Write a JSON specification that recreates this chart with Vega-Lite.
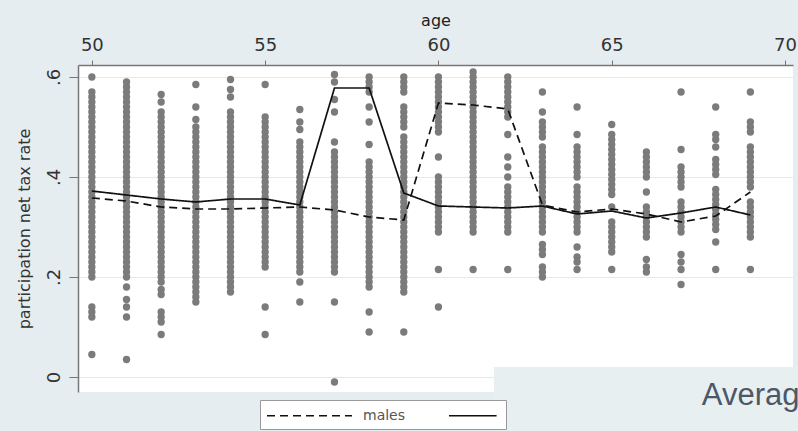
{
"$schema": "https://vega.github.io/schema/vega-lite/v6.json",
"width": 715,
"height": 327,
"autosize": {"type": "none"},
"padding": {"left": 78, "top": 65, "right": 5, "bottom": 39},
"background": "#e5edf0",
"config": {"view": {"fill": "white", "stroke": null}, "font": "DejaVu Sans"},
"datasets": {
"pts": [
{"age":50,"rate":0.6},{"age":50,"rate":0.57},{"age":50,"rate":0.56},{"age":50,"rate":0.55},{"age":50,"rate":0.54},{"age":50,"rate":0.53},{"age":50,"rate":0.52},{"age":50,"rate":0.51},{"age":50,"rate":0.5},{"age":50,"rate":0.49},{"age":50,"rate":0.48},{"age":50,"rate":0.47},{"age":50,"rate":0.46},{"age":50,"rate":0.45},{"age":50,"rate":0.44},{"age":50,"rate":0.43},{"age":50,"rate":0.42},{"age":50,"rate":0.41},{"age":50,"rate":0.4},{"age":50,"rate":0.39},{"age":50,"rate":0.38},{"age":50,"rate":0.37},{"age":50,"rate":0.36},{"age":50,"rate":0.35},{"age":50,"rate":0.34},{"age":50,"rate":0.33},{"age":50,"rate":0.32},{"age":50,"rate":0.31},{"age":50,"rate":0.3},{"age":50,"rate":0.29},{"age":50,"rate":0.28},{"age":50,"rate":0.27},{"age":50,"rate":0.26},{"age":50,"rate":0.25},{"age":50,"rate":0.24},{"age":50,"rate":0.23},{"age":50,"rate":0.22},{"age":50,"rate":0.21},{"age":50,"rate":0.2},{"age":50,"rate":0.14},{"age":50,"rate":0.13},{"age":50,"rate":0.12},{"age":50,"rate":0.045},
{"age":51,"rate":0.59},{"age":51,"rate":0.58},{"age":51,"rate":0.57},{"age":51,"rate":0.56},{"age":51,"rate":0.55},{"age":51,"rate":0.54},{"age":51,"rate":0.53},{"age":51,"rate":0.52},{"age":51,"rate":0.51},{"age":51,"rate":0.5},{"age":51,"rate":0.49},{"age":51,"rate":0.48},{"age":51,"rate":0.47},{"age":51,"rate":0.46},{"age":51,"rate":0.45},{"age":51,"rate":0.44},{"age":51,"rate":0.43},{"age":51,"rate":0.42},{"age":51,"rate":0.41},{"age":51,"rate":0.4},{"age":51,"rate":0.39},{"age":51,"rate":0.38},{"age":51,"rate":0.37},{"age":51,"rate":0.36},{"age":51,"rate":0.35},{"age":51,"rate":0.34},{"age":51,"rate":0.33},{"age":51,"rate":0.32},{"age":51,"rate":0.31},{"age":51,"rate":0.3},{"age":51,"rate":0.29},{"age":51,"rate":0.28},{"age":51,"rate":0.27},{"age":51,"rate":0.26},{"age":51,"rate":0.25},{"age":51,"rate":0.24},{"age":51,"rate":0.23},{"age":51,"rate":0.22},{"age":51,"rate":0.21},{"age":51,"rate":0.2},{"age":51,"rate":0.18},{"age":51,"rate":0.155},{"age":51,"rate":0.14},{"age":51,"rate":0.12},{"age":51,"rate":0.035},
{"age":52,"rate":0.565},{"age":52,"rate":0.55},{"age":52,"rate":0.53},{"age":52,"rate":0.52},{"age":52,"rate":0.51},{"age":52,"rate":0.5},{"age":52,"rate":0.49},{"age":52,"rate":0.48},{"age":52,"rate":0.47},{"age":52,"rate":0.46},{"age":52,"rate":0.45},{"age":52,"rate":0.44},{"age":52,"rate":0.43},{"age":52,"rate":0.42},{"age":52,"rate":0.41},{"age":52,"rate":0.4},{"age":52,"rate":0.39},{"age":52,"rate":0.38},{"age":52,"rate":0.37},{"age":52,"rate":0.36},{"age":52,"rate":0.35},{"age":52,"rate":0.34},{"age":52,"rate":0.33},{"age":52,"rate":0.32},{"age":52,"rate":0.31},{"age":52,"rate":0.3},{"age":52,"rate":0.29},{"age":52,"rate":0.28},{"age":52,"rate":0.27},{"age":52,"rate":0.26},{"age":52,"rate":0.25},{"age":52,"rate":0.24},{"age":52,"rate":0.23},{"age":52,"rate":0.22},{"age":52,"rate":0.21},{"age":52,"rate":0.2},{"age":52,"rate":0.19},{"age":52,"rate":0.175},{"age":52,"rate":0.165},{"age":52,"rate":0.13},{"age":52,"rate":0.12},{"age":52,"rate":0.11},{"age":52,"rate":0.085},
{"age":53,"rate":0.585},{"age":53,"rate":0.54},{"age":53,"rate":0.515},{"age":53,"rate":0.5},{"age":53,"rate":0.49},{"age":53,"rate":0.48},{"age":53,"rate":0.47},{"age":53,"rate":0.46},{"age":53,"rate":0.45},{"age":53,"rate":0.44},{"age":53,"rate":0.43},{"age":53,"rate":0.42},{"age":53,"rate":0.41},{"age":53,"rate":0.4},{"age":53,"rate":0.39},{"age":53,"rate":0.38},{"age":53,"rate":0.37},{"age":53,"rate":0.36},{"age":53,"rate":0.35},{"age":53,"rate":0.34},{"age":53,"rate":0.33},{"age":53,"rate":0.32},{"age":53,"rate":0.31},{"age":53,"rate":0.3},{"age":53,"rate":0.29},{"age":53,"rate":0.28},{"age":53,"rate":0.27},{"age":53,"rate":0.26},{"age":53,"rate":0.25},{"age":53,"rate":0.24},{"age":53,"rate":0.23},{"age":53,"rate":0.22},{"age":53,"rate":0.21},{"age":53,"rate":0.2},{"age":53,"rate":0.19},{"age":53,"rate":0.18},{"age":53,"rate":0.17},{"age":53,"rate":0.16},{"age":53,"rate":0.15},
{"age":54,"rate":0.595},{"age":54,"rate":0.575},{"age":54,"rate":0.56},{"age":54,"rate":0.53},{"age":54,"rate":0.52},{"age":54,"rate":0.51},{"age":54,"rate":0.5},{"age":54,"rate":0.49},{"age":54,"rate":0.48},{"age":54,"rate":0.47},{"age":54,"rate":0.46},{"age":54,"rate":0.45},{"age":54,"rate":0.44},{"age":54,"rate":0.43},{"age":54,"rate":0.42},{"age":54,"rate":0.41},{"age":54,"rate":0.4},{"age":54,"rate":0.39},{"age":54,"rate":0.38},{"age":54,"rate":0.37},{"age":54,"rate":0.36},{"age":54,"rate":0.35},{"age":54,"rate":0.34},{"age":54,"rate":0.33},{"age":54,"rate":0.32},{"age":54,"rate":0.31},{"age":54,"rate":0.3},{"age":54,"rate":0.29},{"age":54,"rate":0.28},{"age":54,"rate":0.27},{"age":54,"rate":0.26},{"age":54,"rate":0.25},{"age":54,"rate":0.24},{"age":54,"rate":0.23},{"age":54,"rate":0.22},{"age":54,"rate":0.21},{"age":54,"rate":0.2},{"age":54,"rate":0.19},{"age":54,"rate":0.18},{"age":54,"rate":0.17},
{"age":55,"rate":0.585},{"age":55,"rate":0.52},{"age":55,"rate":0.51},{"age":55,"rate":0.5},{"age":55,"rate":0.49},{"age":55,"rate":0.48},{"age":55,"rate":0.47},{"age":55,"rate":0.46},{"age":55,"rate":0.45},{"age":55,"rate":0.44},{"age":55,"rate":0.43},{"age":55,"rate":0.42},{"age":55,"rate":0.41},{"age":55,"rate":0.4},{"age":55,"rate":0.39},{"age":55,"rate":0.38},{"age":55,"rate":0.37},{"age":55,"rate":0.36},{"age":55,"rate":0.35},{"age":55,"rate":0.34},{"age":55,"rate":0.33},{"age":55,"rate":0.32},{"age":55,"rate":0.31},{"age":55,"rate":0.3},{"age":55,"rate":0.29},{"age":55,"rate":0.28},{"age":55,"rate":0.27},{"age":55,"rate":0.26},{"age":55,"rate":0.25},{"age":55,"rate":0.24},{"age":55,"rate":0.23},{"age":55,"rate":0.22},{"age":55,"rate":0.14},{"age":55,"rate":0.085},
{"age":56,"rate":0.535},{"age":56,"rate":0.51},{"age":56,"rate":0.495},{"age":56,"rate":0.47},{"age":56,"rate":0.46},{"age":56,"rate":0.45},{"age":56,"rate":0.44},{"age":56,"rate":0.43},{"age":56,"rate":0.42},{"age":56,"rate":0.41},{"age":56,"rate":0.4},{"age":56,"rate":0.39},{"age":56,"rate":0.38},{"age":56,"rate":0.37},{"age":56,"rate":0.36},{"age":56,"rate":0.35},{"age":56,"rate":0.34},{"age":56,"rate":0.33},{"age":56,"rate":0.32},{"age":56,"rate":0.31},{"age":56,"rate":0.3},{"age":56,"rate":0.29},{"age":56,"rate":0.28},{"age":56,"rate":0.27},{"age":56,"rate":0.26},{"age":56,"rate":0.25},{"age":56,"rate":0.24},{"age":56,"rate":0.23},{"age":56,"rate":0.22},{"age":56,"rate":0.21},{"age":56,"rate":0.19},{"age":56,"rate":0.15},
{"age":57,"rate":0.605},{"age":57,"rate":0.59},{"age":57,"rate":0.555},{"age":57,"rate":0.53},{"age":57,"rate":0.47},{"age":57,"rate":0.45},{"age":57,"rate":0.44},{"age":57,"rate":0.43},{"age":57,"rate":0.42},{"age":57,"rate":0.41},{"age":57,"rate":0.4},{"age":57,"rate":0.39},{"age":57,"rate":0.38},{"age":57,"rate":0.37},{"age":57,"rate":0.36},{"age":57,"rate":0.35},{"age":57,"rate":0.34},{"age":57,"rate":0.33},{"age":57,"rate":0.32},{"age":57,"rate":0.31},{"age":57,"rate":0.3},{"age":57,"rate":0.29},{"age":57,"rate":0.28},{"age":57,"rate":0.27},{"age":57,"rate":0.26},{"age":57,"rate":0.25},{"age":57,"rate":0.24},{"age":57,"rate":0.23},{"age":57,"rate":0.22},{"age":57,"rate":0.21},{"age":57,"rate":0.15},{"age":57,"rate":-0.01},
{"age":58,"rate":0.6},{"age":58,"rate":0.59},{"age":58,"rate":0.58},{"age":58,"rate":0.57},{"age":58,"rate":0.54},{"age":58,"rate":0.51},{"age":58,"rate":0.465},{"age":58,"rate":0.43},{"age":58,"rate":0.42},{"age":58,"rate":0.41},{"age":58,"rate":0.4},{"age":58,"rate":0.39},{"age":58,"rate":0.38},{"age":58,"rate":0.37},{"age":58,"rate":0.36},{"age":58,"rate":0.35},{"age":58,"rate":0.34},{"age":58,"rate":0.33},{"age":58,"rate":0.32},{"age":58,"rate":0.31},{"age":58,"rate":0.3},{"age":58,"rate":0.29},{"age":58,"rate":0.28},{"age":58,"rate":0.27},{"age":58,"rate":0.26},{"age":58,"rate":0.25},{"age":58,"rate":0.24},{"age":58,"rate":0.23},{"age":58,"rate":0.22},{"age":58,"rate":0.21},{"age":58,"rate":0.2},{"age":58,"rate":0.19},{"age":58,"rate":0.18},{"age":58,"rate":0.13},{"age":58,"rate":0.09},
{"age":59,"rate":0.6},{"age":59,"rate":0.59},{"age":59,"rate":0.58},{"age":59,"rate":0.57},{"age":59,"rate":0.54},{"age":59,"rate":0.53},{"age":59,"rate":0.52},{"age":59,"rate":0.51},{"age":59,"rate":0.5},{"age":59,"rate":0.48},{"age":59,"rate":0.47},{"age":59,"rate":0.46},{"age":59,"rate":0.45},{"age":59,"rate":0.44},{"age":59,"rate":0.43},{"age":59,"rate":0.42},{"age":59,"rate":0.41},{"age":59,"rate":0.4},{"age":59,"rate":0.39},{"age":59,"rate":0.38},{"age":59,"rate":0.37},{"age":59,"rate":0.36},{"age":59,"rate":0.35},{"age":59,"rate":0.34},{"age":59,"rate":0.33},{"age":59,"rate":0.32},{"age":59,"rate":0.31},{"age":59,"rate":0.3},{"age":59,"rate":0.29},{"age":59,"rate":0.28},{"age":59,"rate":0.27},{"age":59,"rate":0.26},{"age":59,"rate":0.25},{"age":59,"rate":0.24},{"age":59,"rate":0.23},{"age":59,"rate":0.22},{"age":59,"rate":0.21},{"age":59,"rate":0.2},{"age":59,"rate":0.19},{"age":59,"rate":0.18},{"age":59,"rate":0.17},{"age":59,"rate":0.09},
{"age":60,"rate":0.6},{"age":60,"rate":0.59},{"age":60,"rate":0.58},{"age":60,"rate":0.57},{"age":60,"rate":0.56},{"age":60,"rate":0.55},{"age":60,"rate":0.54},{"age":60,"rate":0.53},{"age":60,"rate":0.52},{"age":60,"rate":0.51},{"age":60,"rate":0.5},{"age":60,"rate":0.49},{"age":60,"rate":0.44},{"age":60,"rate":0.4},{"age":60,"rate":0.39},{"age":60,"rate":0.38},{"age":60,"rate":0.37},{"age":60,"rate":0.36},{"age":60,"rate":0.35},{"age":60,"rate":0.34},{"age":60,"rate":0.33},{"age":60,"rate":0.32},{"age":60,"rate":0.31},{"age":60,"rate":0.3},{"age":60,"rate":0.29},{"age":60,"rate":0.215},{"age":60,"rate":0.14},
{"age":61,"rate":0.61},{"age":61,"rate":0.6},{"age":61,"rate":0.59},{"age":61,"rate":0.58},{"age":61,"rate":0.57},{"age":61,"rate":0.56},{"age":61,"rate":0.55},{"age":61,"rate":0.54},{"age":61,"rate":0.53},{"age":61,"rate":0.52},{"age":61,"rate":0.51},{"age":61,"rate":0.5},{"age":61,"rate":0.49},{"age":61,"rate":0.48},{"age":61,"rate":0.47},{"age":61,"rate":0.46},{"age":61,"rate":0.45},{"age":61,"rate":0.44},{"age":61,"rate":0.43},{"age":61,"rate":0.42},{"age":61,"rate":0.41},{"age":61,"rate":0.4},{"age":61,"rate":0.39},{"age":61,"rate":0.38},{"age":61,"rate":0.37},{"age":61,"rate":0.36},{"age":61,"rate":0.35},{"age":61,"rate":0.34},{"age":61,"rate":0.33},{"age":61,"rate":0.32},{"age":61,"rate":0.31},{"age":61,"rate":0.3},{"age":61,"rate":0.29},{"age":61,"rate":0.215},
{"age":62,"rate":0.6},{"age":62,"rate":0.59},{"age":62,"rate":0.58},{"age":62,"rate":0.57},{"age":62,"rate":0.56},{"age":62,"rate":0.55},{"age":62,"rate":0.54},{"age":62,"rate":0.53},{"age":62,"rate":0.52},{"age":62,"rate":0.485},{"age":62,"rate":0.44},{"age":62,"rate":0.42},{"age":62,"rate":0.4},{"age":62,"rate":0.38},{"age":62,"rate":0.37},{"age":62,"rate":0.36},{"age":62,"rate":0.35},{"age":62,"rate":0.34},{"age":62,"rate":0.33},{"age":62,"rate":0.32},{"age":62,"rate":0.31},{"age":62,"rate":0.3},{"age":62,"rate":0.29},{"age":62,"rate":0.215},
{"age":63,"rate":0.57},{"age":63,"rate":0.53},{"age":63,"rate":0.51},{"age":63,"rate":0.5},{"age":63,"rate":0.49},{"age":63,"rate":0.48},{"age":63,"rate":0.46},{"age":63,"rate":0.45},{"age":63,"rate":0.44},{"age":63,"rate":0.43},{"age":63,"rate":0.42},{"age":63,"rate":0.41},{"age":63,"rate":0.4},{"age":63,"rate":0.39},{"age":63,"rate":0.38},{"age":63,"rate":0.37},{"age":63,"rate":0.36},{"age":63,"rate":0.35},{"age":63,"rate":0.34},{"age":63,"rate":0.33},{"age":63,"rate":0.32},{"age":63,"rate":0.31},{"age":63,"rate":0.3},{"age":63,"rate":0.29},{"age":63,"rate":0.265},{"age":63,"rate":0.255},{"age":63,"rate":0.245},{"age":63,"rate":0.22},{"age":63,"rate":0.21},{"age":63,"rate":0.2},
{"age":64,"rate":0.54},{"age":64,"rate":0.485},{"age":64,"rate":0.46},{"age":64,"rate":0.45},{"age":64,"rate":0.44},{"age":64,"rate":0.43},{"age":64,"rate":0.42},{"age":64,"rate":0.41},{"age":64,"rate":0.4},{"age":64,"rate":0.38},{"age":64,"rate":0.37},{"age":64,"rate":0.36},{"age":64,"rate":0.35},{"age":64,"rate":0.34},{"age":64,"rate":0.33},{"age":64,"rate":0.32},{"age":64,"rate":0.31},{"age":64,"rate":0.3},{"age":64,"rate":0.29},{"age":64,"rate":0.26},{"age":64,"rate":0.24},{"age":64,"rate":0.23},{"age":64,"rate":0.215},
{"age":65,"rate":0.505},{"age":65,"rate":0.485},{"age":65,"rate":0.475},{"age":65,"rate":0.465},{"age":65,"rate":0.455},{"age":65,"rate":0.445},{"age":65,"rate":0.435},{"age":65,"rate":0.425},{"age":65,"rate":0.415},{"age":65,"rate":0.405},{"age":65,"rate":0.395},{"age":65,"rate":0.385},{"age":65,"rate":0.375},{"age":65,"rate":0.365},{"age":65,"rate":0.34},{"age":65,"rate":0.31},{"age":65,"rate":0.3},{"age":65,"rate":0.29},{"age":65,"rate":0.28},{"age":65,"rate":0.27},{"age":65,"rate":0.26},{"age":65,"rate":0.25},{"age":65,"rate":0.215},
{"age":66,"rate":0.45},{"age":66,"rate":0.44},{"age":66,"rate":0.43},{"age":66,"rate":0.42},{"age":66,"rate":0.41},{"age":66,"rate":0.4},{"age":66,"rate":0.37},{"age":66,"rate":0.34},{"age":66,"rate":0.33},{"age":66,"rate":0.32},{"age":66,"rate":0.31},{"age":66,"rate":0.3},{"age":66,"rate":0.29},{"age":66,"rate":0.28},{"age":66,"rate":0.235},{"age":66,"rate":0.22},{"age":66,"rate":0.21},
{"age":67,"rate":0.57},{"age":67,"rate":0.455},{"age":67,"rate":0.42},{"age":67,"rate":0.41},{"age":67,"rate":0.4},{"age":67,"rate":0.39},{"age":67,"rate":0.38},{"age":67,"rate":0.35},{"age":67,"rate":0.34},{"age":67,"rate":0.33},{"age":67,"rate":0.32},{"age":67,"rate":0.31},{"age":67,"rate":0.3},{"age":67,"rate":0.29},{"age":67,"rate":0.245},{"age":67,"rate":0.23},{"age":67,"rate":0.215},{"age":67,"rate":0.185},
{"age":68,"rate":0.54},{"age":68,"rate":0.485},{"age":68,"rate":0.475},{"age":68,"rate":0.46},{"age":68,"rate":0.435},{"age":68,"rate":0.425},{"age":68,"rate":0.415},{"age":68,"rate":0.405},{"age":68,"rate":0.375},{"age":68,"rate":0.365},{"age":68,"rate":0.355},{"age":68,"rate":0.345},{"age":68,"rate":0.335},{"age":68,"rate":0.325},{"age":68,"rate":0.315},{"age":68,"rate":0.305},{"age":68,"rate":0.295},{"age":68,"rate":0.27},{"age":68,"rate":0.215},
{"age":69,"rate":0.57},{"age":69,"rate":0.51},{"age":69,"rate":0.5},{"age":69,"rate":0.49},{"age":69,"rate":0.46},{"age":69,"rate":0.45},{"age":69,"rate":0.44},{"age":69,"rate":0.43},{"age":69,"rate":0.42},{"age":69,"rate":0.41},{"age":69,"rate":0.4},{"age":69,"rate":0.39},{"age":69,"rate":0.38},{"age":69,"rate":0.35},{"age":69,"rate":0.34},{"age":69,"rate":0.33},{"age":69,"rate":0.32},{"age":69,"rate":0.31},{"age":69,"rate":0.3},{"age":69,"rate":0.29},{"age":69,"rate":0.28},{"age":69,"rate":0.215}
],
"means": [
{"age":50,"sex":"females","rate":0.372},{"age":51,"sex":"females","rate":0.364},{"age":52,"sex":"females","rate":0.356},{"age":53,"sex":"females","rate":0.35},{"age":54,"sex":"females","rate":0.356},{"age":55,"sex":"females","rate":0.356},{"age":56,"sex":"females","rate":0.344},{"age":57,"sex":"females","rate":0.578},{"age":58,"sex":"females","rate":0.578},{"age":59,"sex":"females","rate":0.368},{"age":60,"sex":"females","rate":0.342},{"age":61,"sex":"females","rate":0.34},{"age":62,"sex":"females","rate":0.338},{"age":63,"sex":"females","rate":0.342},{"age":64,"sex":"females","rate":0.326},{"age":65,"sex":"females","rate":0.332},{"age":66,"sex":"females","rate":0.318},{"age":67,"sex":"females","rate":0.328},{"age":68,"sex":"females","rate":0.34},{"age":69,"sex":"females","rate":0.324},
{"age":50,"sex":"males","rate":0.358},{"age":51,"sex":"males","rate":0.352},{"age":52,"sex":"males","rate":0.34},{"age":53,"sex":"males","rate":0.336},{"age":54,"sex":"males","rate":0.336},{"age":55,"sex":"males","rate":0.338},{"age":56,"sex":"males","rate":0.34},{"age":57,"sex":"males","rate":0.334},{"age":58,"sex":"males","rate":0.32},{"age":59,"sex":"males","rate":0.314},{"age":60,"sex":"males","rate":0.548},{"age":61,"sex":"males","rate":0.544},{"age":62,"sex":"males","rate":0.536},{"age":63,"sex":"males","rate":0.344},{"age":64,"sex":"males","rate":0.33},{"age":65,"sex":"males","rate":0.336},{"age":66,"sex":"males","rate":0.326},{"age":67,"sex":"males","rate":0.31},{"age":68,"sex":"males","rate":0.322},{"age":69,"sex":"males","rate":0.37}
],
"note": [{"label": "Average"}]
},
"layer": [
{
"data": {"name": "pts"},
"mark": {"type": "circle", "size": 54, "color": "#7b7b7b", "opacity": 1},
"encoding": {
"x": {"field": "age", "type": "quantitative",
"scale": {"domain": [49.6, 70.23], "nice": false, "zero": false},
"axis": {"orient": "top", "values": [50, 55, 60, 65, 70], "title": "age", "grid": false,
"labelFontSize": 18, "labelColor": "#333", "labelPadding": 6, "labelFlush": false,
"tickSize": 5, "tickColor": "#777", "domainColor": "#777", "domainWidth": 1.5,
"titleFontSize": 16, "titleFontWeight": "normal", "titleColor": "#222", "titlePadding": 8}},
"y": {"field": "rate", "type": "quantitative",
"scale": {"domain": [-0.03, 0.624], "nice": false, "zero": false},
"axis": {"orient": "left", "values": [0, 0.2, 0.4, 0.6], "title": "participation net tax rate",
"labelExpr": "datum.value == 0 ? '0' : replace(format(datum.value, '.1f'), '0.', '.')",
"labelAngle": -90, "labelAlign": "center", "labelBaseline": "bottom",
"labelFontSize": 18, "labelColor": "#333", "labelPadding": 6,
"tickSize": 9, "tickColor": "#777", "domainColor": "#777", "domainWidth": 1.5,
"grid": true, "gridColor": "#e8e8e8",
"titleFontSize": 16, "titleFontWeight": "normal", "titleColor": "#333", "titlePadding": 13}}
}
},
{
"data": {"name": "means"},
"mark": {"type": "line", "color": "#111", "strokeWidth": 1.7},
"encoding": {
"x": {"field": "age", "type": "quantitative"},
"y": {"field": "rate", "type": "quantitative"},
"strokeDash": {"field": "sex", "type": "nominal",
"scale": {"domain": ["males", "females"], "range": [[8, 5], [1, 0]]},
"legend": {"orient": "none", "legendX": 182, "legendY": 335, "direction": "horizontal", "title": null,
"symbolType": "M-1,0H9", "symbolSize": 289, "symbolStrokeWidth": 1.5, "symbolStrokeColor": "#111",
"labelFontSize": 14, "labelColor": "#555", "labelOffset": 80, "columnPadding": 40, "padding": 6,
"strokeColor": "#999", "fillColor": "white",
"labelExpr": "datum.label == 'females' ? '' : datum.label",
"encode": {
"symbols": {"update": {"shape": {"signal": "datum.value === 'females' ? 'M-1,0H4.6' : 'M-1,0H9'"}}},
"labels": {"update": {"x": {"signal": "datum.value === 'females' ? 0 : 97"}}}
}}}
}
},
{
"data": {"name": "note"},
"mark": {"type": "rect", "fill": "#e8eff1", "clip": false},
"encoding": {"x": {"datum": 61.6}, "x2": {"datum": 70.4}, "y": {"datum": 0.02}, "y2": {"datum": -0.108}}
},
{
"data": {"name": "note"},
"mark": {"type": "text", "font": "Liberation Sans", "fontSize": 31, "color": "#4b5868", "align": "left", "baseline": "alphabetic", "clip": false},
"encoding": {"x": {"datum": 67.6}, "y": {"datum": -0.056}, "text": {"field": "label"}}
}
]
}
